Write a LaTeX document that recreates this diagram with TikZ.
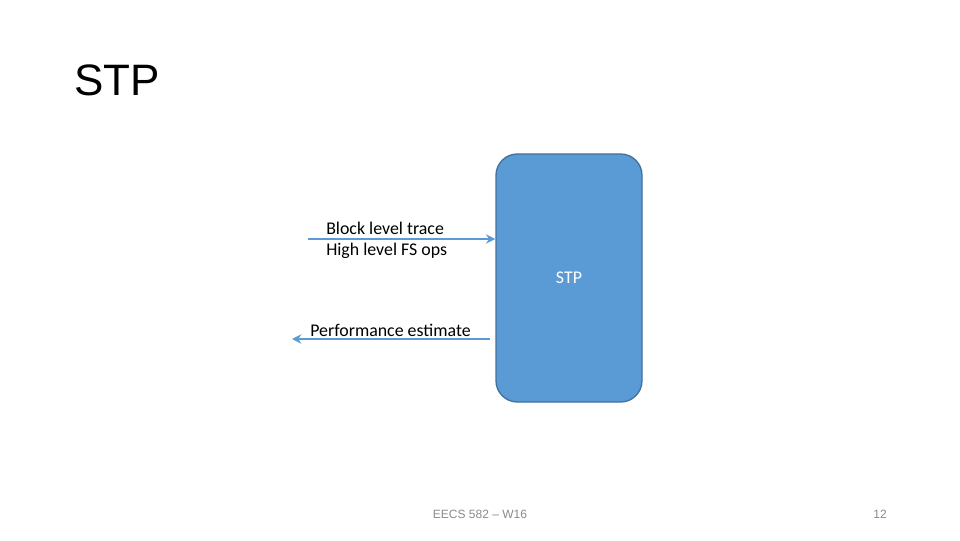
\documentclass[tikz,border=0pt]{standalone}
\usepackage{fontspec}
\setmainfont{Carlito}
\newfontfamily\arialfont{Liberation Sans}
\usepackage{tikz}
\usetikzlibrary{positioning}
\usetikzlibrary{arrows.meta}
\usepackage{xcolor}

\definecolor{boxblue}{HTML}{5B9BD5}
\definecolor{boxedge}{HTML}{41719C}
\definecolor{footgray}{HTML}{8A8A8A}

\tikzset{
  stpbox/.style={draw=boxedge, fill=boxblue, line width=1pt, rounded corners=16pt,
    minimum width=109.5pt, minimum height=186pt, text=white, font=\fontsize{13.4}{16}\selectfont},
  flowarrow/.style={draw=boxblue, line width=1.1pt, -{Stealth[length=7pt,width=7pt]}},
  flowlabel/.style={anchor=west, inner sep=0pt, font=\fontsize{13.4}{16}\selectfont},
  footer/.style={text=footgray, inner sep=0pt, font=\arialfont\fontsize{9}{11}\selectfont}
}

\begin{document}
\begin{tikzpicture}[x=0.75pt, y=0.75pt]
\useasboundingbox (0,0) rectangle (960,540);

% title
\node[anchor=base west, inner sep=0pt, font=\arialfont\fontsize{33}{38}\selectfont] (title) at (74,444) {STP};

% the box
\node[stpbox] (stp) at (569,262) {STP};

% input
\coordinate (inStart) at (308,301);
\draw[flowarrow] (inStart) -- (stp.west |- inStart);
\node[flowlabel] (trace) at (326,312) {Block level trace};
\node[flowlabel] (fsops) at (326,289) {High level FS ops};

% output
\coordinate (outStart) at (490,201);
\coordinate (outEnd) at (292,201);
\draw[flowarrow] (outStart) -- (outEnd);
\node[flowlabel] (perf) at (310,210) {Performance estimate};

% footer
\node[footer] (course) at (480,26) {EECS 582 – W16};
\node[footer, anchor=east] (page) at (887,26) {12};
\end{tikzpicture}
\end{document}
